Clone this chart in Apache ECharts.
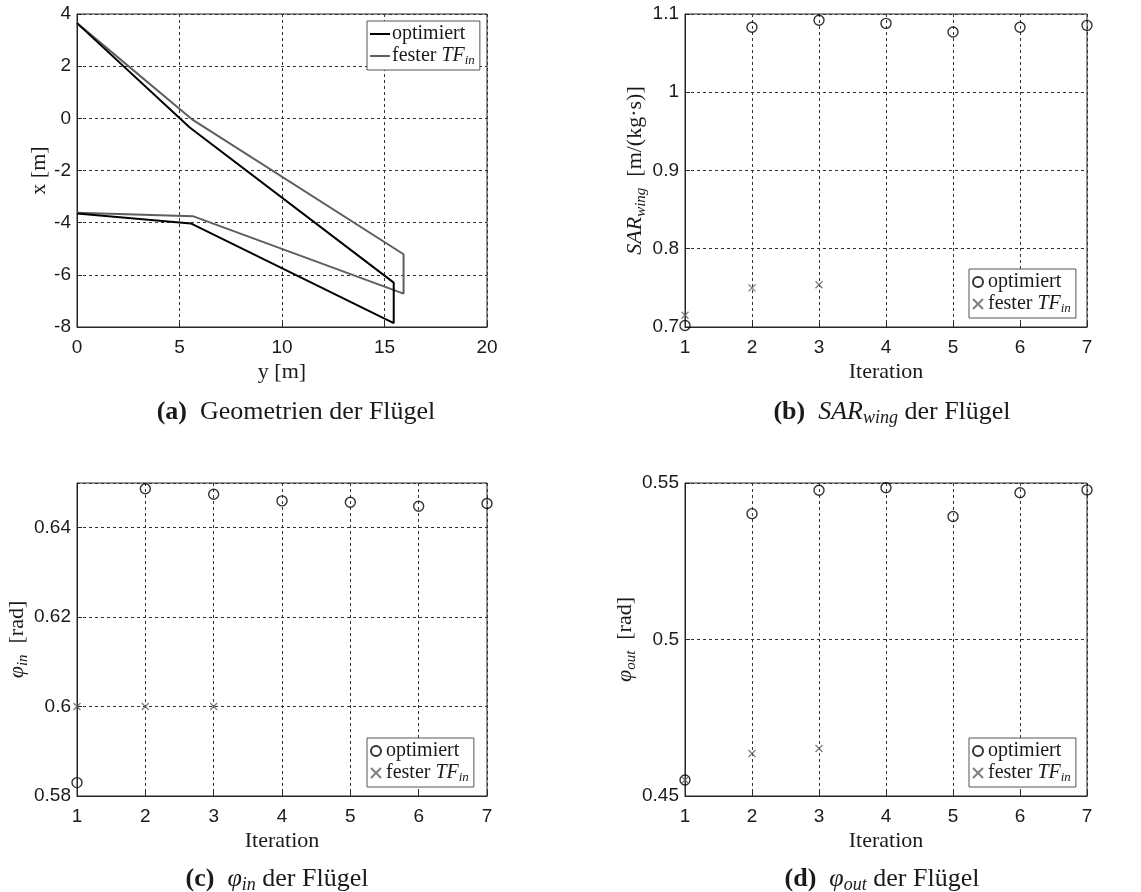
<!DOCTYPE html>
<html lang="de">
<head>
<meta charset="UTF-8">
<title>Flügel Optimierung</title>
<style>
  html, body { margin: 0; padding: 0; background: #fff; }
  #chart { width: 1141px; height: 892px; }
</style>
</head>
<body>
<div id="chart"></div>
<script src="https://cdn.jsdelivr.net/npm/echarts@6/dist/echarts.min.js"></script>
<script>
// (a) Geometrie: Spannweite y [m] und Längsrichtung x [m]
var geoOptY = [0, 5.5, 15.45, 15.45, 5.55, 0];
var geoOptX = [3.65, -0.35, -6.3, -7.85, -4.03, -3.65];
var geoFixY = [0, 5.65, 15.93, 15.93, 5.65, 0];
var geoFixX = [3.65, -0.06, -5.21, -6.72, -3.75, -3.62];

// Iterationen
var iterations = [1, 2, 3, 4, 5, 6, 7];
var iterFix = [1, 2, 3];

// (b) SAR_wing
var sarOpt = [0.702, 1.083, 1.092, 1.088, 1.077, 1.083, 1.0855];
var sarFix = [0.715, 0.750, 0.754];

// (c) phi_in
var phiInOpt = [0.583, 0.6487, 0.6475, 0.646, 0.6457, 0.6448, 0.6454];
var phiInFix = [0.6, 0.6, 0.6];

// (d) phi_out
var phiOutOpt = [0.4551, 0.5402, 0.5477, 0.5485, 0.5393, 0.5469, 0.5478];
var phiOutFix = [0.4551, 0.4636, 0.4652];

var serif = '"Liberation Serif", "DejaVu Serif", serif';
var sans = '"Liberation Sans", Arial, sans-serif';
var ink = '#1a1a1a';
var gray = '#5e5e5e';

function zip(a, b) {
  var out = [];
  for (var i = 0; i < a.length; i++) out.push([a[i], b[i]]);
  return out;
}

// Achsentitel
var rich = {
  n: { fontFamily: serif, fontSize: 22, color: ink, lineHeight: 26 },
  i: { fontFamily: serif, fontSize: 22, fontStyle: 'italic', color: ink, lineHeight: 26 },
  s: { fontFamily: serif, fontSize: 15, fontStyle: 'italic', color: ink, lineHeight: 10, verticalAlign: 'bottom' }
};
// Bildunterschriften
var capRich = {
  n: { fontFamily: serif, fontSize: 26, color: ink, lineHeight: 30 },
  i: { fontFamily: serif, fontSize: 26, fontStyle: 'italic', color: ink, lineHeight: 30 },
  s: { fontFamily: serif, fontSize: 18, fontStyle: 'italic', color: ink, lineHeight: 12, verticalAlign: 'bottom' },
  b: { fontFamily: serif, fontSize: 26, fontWeight: 'bold', color: ink, lineHeight: 30 }
};
var legendRich = {
  n: { fontFamily: serif, fontSize: 20, color: ink, lineHeight: 22 },
  i: { fontFamily: serif, fontSize: 20, fontStyle: 'italic', color: ink, lineHeight: 22 },
  s: { fontFamily: serif, fontSize: 13, fontStyle: 'italic', color: ink, lineHeight: 8, verticalAlign: 'bottom' }
};

var legendText = {
  a1: '{n|optimiert}', a2: '{n|fester }{i|TF}{s|in}',
  b1: '{n|optimiert}', b2: '{n|fester }{i|TF}{s|in}',
  c1: '{n|optimiert}', c2: '{n|fester }{i|TF}{s|in}',
  d1: '{n|optimiert}', d2: '{n|fester }{i|TF}{s|in}'
};

var grids = [
  { left: 77, top: 14, width: 410, height: 313 },
  { left: 685, top: 14, width: 402, height: 313 },
  { left: 77, top: 483, width: 410, height: 313 },
  { left: 685, top: 483, width: 402, height: 313 }
];
grids.forEach(function (g) {
  g.show = true;
  g.borderColor = '#262626';
  g.borderWidth = 1;
  g.backgroundColor = '#fff';
});

function valAxis(idx, min, max, interval, nameFmt, gap, isY) {
  return {
    type: 'value',
    gridIndex: idx,
    min: min,
    max: max,
    interval: interval,
    name: nameFmt,
    nameLocation: 'middle',
    nameGap: gap,
    nameRotate: isY ? 90 : 0,
    nameTextStyle: { rich: rich },
    axisLine: { show: true, onZero: false, lineStyle: { color: '#262626', width: 1 } },
    axisTick: { show: true, inside: true, length: 5, lineStyle: { color: '#262626' } },
    axisLabel: {
      color: ink, fontFamily: sans, fontSize: 19, margin: isY ? 6 : 11,
      showMaxLabel: !(isY && idx === 2)
    },
    splitLine: { show: true, lineStyle: { color: '#333', type: [3, 3], width: 1 } }
  };
}

var xAxes = [
  valAxis(0, 0, 20, 5, '{n|y [m]}', 32, false),
  valAxis(1, 1, 7, 1, '{n|Iteration}', 32, false),
  valAxis(2, 1, 7, 1, '{n|Iteration}', 32, false),
  valAxis(3, 1, 7, 1, '{n|Iteration}', 32, false)
];
var yAxes = [
  valAxis(0, -8, 4, 2, '{n|x [m]}', 20, true),
  valAxis(1, 0.7, 1.1, 0.1, '{i|SAR}{s|wing}{n|  [m/(kg·s)]}', 33, true),
  valAxis(2, 0.58, 0.65, 0.02, '{i|φ}{s|in}{n|  [rad]}', 37, true),
  valAxis(3, 0.45, 0.55, 0.05, '{i|φ}{s|out}{n|  [rad]}', 32, true)
];

var crossPath = 'path://M0,0L10,10M10,0L0,10';

function scatterPair(idx, key, opt, fix) {
  return [
    {
      name: key + '1', type: 'scatter', xAxisIndex: idx, yAxisIndex: idx,
      data: zip(iterations, opt), symbol: 'circle', symbolSize: 10, clip: false, z: 3,
      itemStyle: { color: 'rgba(255,255,255,0)', borderColor: '#000', borderWidth: 1.4 }
    },
    {
      name: key + '2', type: 'scatter', xAxisIndex: idx, yAxisIndex: idx,
      data: zip(iterFix, fix), symbol: crossPath, symbolSize: 7, clip: false, z: 4,
      itemStyle: { color: 'rgba(0,0,0,0)', borderColor: gray, borderWidth: 1.3 }
    }
  ];
}

function legendAt(left, top, key, isLine) {
  var items = isLine
    ? [{ name: key + '1', icon: 'rect' }, { name: key + '2', icon: 'rect' }]
    : [key + '1', key + '2'];
  return {
    left: left, top: top, orient: 'vertical',
    data: items,
    backgroundColor: '#fff', borderColor: '#555', borderWidth: 1,
    padding: [3, 5, 3, 3], itemGap: 2,
    itemWidth: isLine ? 20 : 10, itemHeight: isLine ? 2 : 10,
    selectedMode: false,
    formatter: function (name) { return legendText[name]; },
    textStyle: { rich: legendRich, padding: [0, 0, 0, isLine ? -3 : 0] }
  };
}

function caption(left, top, text) {
  return {
    left: left, top: top, textAlign: 'center',
    text: text,
    textStyle: { rich: capRich, fontFamily: serif, fontSize: 26, fontWeight: 'normal' }
  };
}

var chart = echarts.init(document.getElementById('chart'), null, { renderer: 'canvas' });
var option = {
  animation: false,
  backgroundColor: '#fff',
  title: [
    caption(291, 392, '{b|(a)}{n|  Geometrien der Flügel}'),
    caption(887, 392, '{b|(b)}{n|  }{i|SAR}{s|wing}{n| der Flügel}'),
    caption(272, 859, '{b|(c)}{n|  }{i|φ}{s|in}{n| der Flügel}'),
    caption(877, 859, '{b|(d)}{n|  }{i|φ}{s|out}{n| der Flügel}')
  ],
  grid: grids,
  xAxis: xAxes,
  yAxis: yAxes,
  legend: [
    legendAt(367, 21, 'a', true),
    legendAt(969, 269, 'b', false),
    legendAt(367, 738, 'c', false),
    legendAt(969, 738, 'd', false)
  ],
  series: [
    {
      name: 'a1', type: 'line', xAxisIndex: 0, yAxisIndex: 0,
      data: zip(geoOptY, geoOptX), symbol: 'none', z: 4,
      lineStyle: { color: '#000', width: 2 }, itemStyle: { color: '#000' }
    },
    {
      name: 'a2', type: 'line', xAxisIndex: 0, yAxisIndex: 0,
      data: zip(geoFixY, geoFixX), symbol: 'none', z: 3,
      lineStyle: { color: gray, width: 2 }, itemStyle: { color: gray }
    }
  ]
    .concat(scatterPair(1, 'b', sarOpt, sarFix))
    .concat(scatterPair(2, 'c', phiInOpt, phiInFix))
    .concat(scatterPair(3, 'd', phiOutOpt, phiOutFix))
};
chart.setOption(option);
</script>
</body>
</html>
